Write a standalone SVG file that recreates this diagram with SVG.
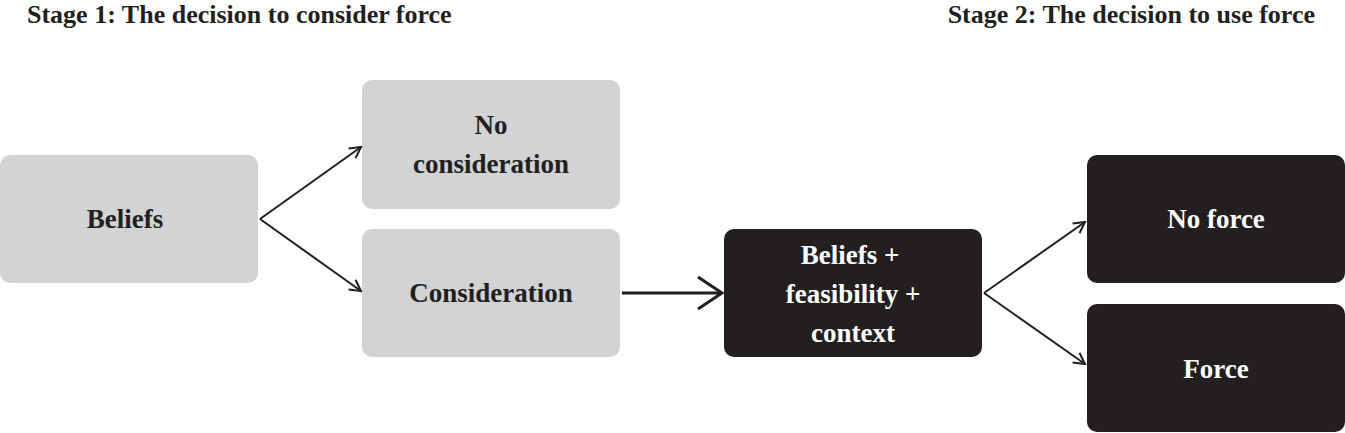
<svg xmlns="http://www.w3.org/2000/svg" width="1345" height="433" viewBox="0 0 1345 433">
<style>
text{font-family:"Liberation Serif","DejaVu Serif",serif;font-weight:bold;font-size:27px;text-anchor:middle}
.t{font-size:26px;text-anchor:start}
.g rect{fill:#d1d3d4}
.g text{fill:#231f20}
.k rect{fill:#231f20}
.k text{fill:#ffffff}
.c{stroke:#231f20;fill:none;stroke-width:2}
</style>
<defs>
<marker id="a" markerWidth="14" markerHeight="14" refX="12" refY="7" orient="auto" markerUnits="userSpaceOnUse"><path d="M1,1 L12,7 L1,13" fill="none" stroke="#231f20" stroke-width="2"/></marker>
<marker id="b" markerWidth="30" markerHeight="36" refX="26" refY="18" orient="auto" markerUnits="userSpaceOnUse"><path d="M2,2 L26,18 L2,34" fill="none" stroke="#231f20" stroke-width="3"/></marker>
</defs>
<text class="t" x="27" y="23" fill="#231f20">Stage 1: The decision to consider force</text>
<text x="1315" y="23" fill="#231f20" style="font-size:26px;text-anchor:end">Stage 2: The decision to use force</text>
<g id="beliefs" class="g"><rect x="0" y="155" width="258" height="128" rx="10"/><text x="125" y="228">Beliefs</text></g>
<g id="noconsideration" class="g"><rect x="362" y="80" width="258" height="129" rx="10"/><text x="491" y="134">No</text><text x="491" y="173">consideration</text></g>
<g id="consideration" class="g"><rect x="362" y="229" width="258" height="128" rx="10"/><text x="491" y="302">Consideration</text></g>
<g id="combined" class="k"><rect x="724" y="229" width="258" height="128" rx="10"/><text x="850" y="264">Beliefs +</text><text x="853" y="303">feasibility +</text><text x="853" y="342">context</text></g>
<g id="noforce" class="k"><rect x="1087" y="155" width="258" height="128" rx="10"/><text x="1216" y="228">No force</text></g>
<g id="force" class="k"><rect x="1087" y="304" width="258" height="128" rx="10"/><text x="1216" y="378">Force</text></g>
<g id="connectors">
<path class="c" d="M260,219 L361,147" marker-end="url(#a)"/>
<path class="c" d="M260,219 L361,291" marker-end="url(#a)"/>
<path class="c" d="M622,293 L722,293" style="stroke-width:3" marker-end="url(#b)"/>
<path class="c" d="M984,293 L1085,222" marker-end="url(#a)"/>
<path class="c" d="M984,293 L1085,364" marker-end="url(#a)"/>
</g>
</svg>
